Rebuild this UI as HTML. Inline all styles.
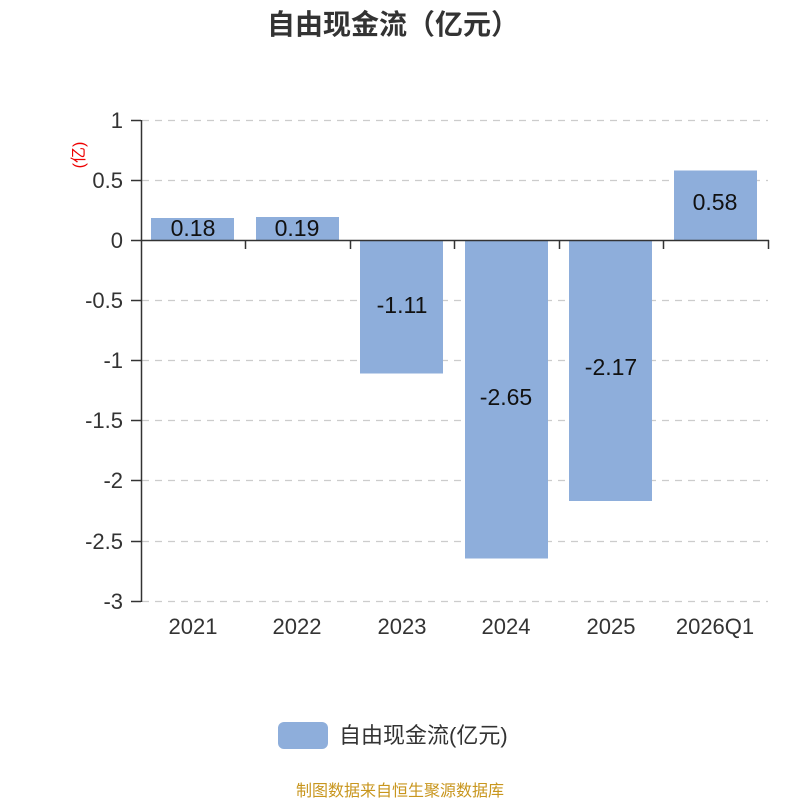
<!DOCTYPE html>
<html><head><meta charset="utf-8"><style>
html,body{margin:0;padding:0;background:#fff;}
svg{display:block;}
text{font-family:"Liberation Sans","Noto Sans CJK SC",sans-serif;}
</style></head><body>
<svg width="800" height="800" viewBox="0 0 800 800" xmlns="http://www.w3.org/2000/svg">
<text x="393" y="34" text-anchor="middle" font-size="28" font-weight="bold" fill="#333">自由现金流（亿元）</text>
<g stroke="#ccc" stroke-width="1.3" stroke-dasharray="7,6">
<line x1="142" y1="120.5" x2="768" y2="120.5"/>
<line x1="142" y1="180.5" x2="768" y2="180.5"/>
<line x1="142" y1="300.5" x2="768" y2="300.5"/>
<line x1="142" y1="360.5" x2="768" y2="360.5"/>
<line x1="142" y1="420.5" x2="768" y2="420.5"/>
<line x1="142" y1="480.5" x2="768" y2="480.5"/>
<line x1="142" y1="541.5" x2="768" y2="541.5"/>
<line x1="142" y1="601.5" x2="768" y2="601.5"/>
</g>
<g fill="#8eaedb">
<rect x="151" y="218" width="83" height="22"/>
<rect x="256" y="217" width="83" height="23"/>
<rect x="360" y="240" width="83" height="133.5"/>
<rect x="465" y="240" width="83" height="318.5"/>
<rect x="569" y="240" width="83" height="261"/>
<rect x="674" y="170.5" width="83" height="69.5"/>
</g>
<g stroke="#333" stroke-width="1.5">
<line x1="141.5" y1="120" x2="141.5" y2="602"/>
<line x1="141" y1="240.5" x2="769" y2="240.5"/>
<line x1="131" y1="120.5" x2="141" y2="120.5"/>
<line x1="131" y1="180.5" x2="141" y2="180.5"/>
<line x1="131" y1="240.5" x2="141" y2="240.5"/>
<line x1="131" y1="300.5" x2="141" y2="300.5"/>
<line x1="131" y1="360.5" x2="141" y2="360.5"/>
<line x1="131" y1="420.5" x2="141" y2="420.5"/>
<line x1="131" y1="480.5" x2="141" y2="480.5"/>
<line x1="131" y1="541.5" x2="141" y2="541.5"/>
<line x1="131" y1="601.5" x2="141" y2="601.5"/>
<line x1="245.5" y1="240" x2="245.5" y2="249"/>
<line x1="350.5" y1="240" x2="350.5" y2="249"/>
<line x1="454.5" y1="240" x2="454.5" y2="249"/>
<line x1="559.5" y1="240" x2="559.5" y2="249"/>
<line x1="663.5" y1="240" x2="663.5" y2="249"/>
<line x1="768.5" y1="240" x2="768.5" y2="249"/>
</g>
<g font-size="22" fill="#333" text-anchor="end">
<text x="123" y="128">1</text>
<text x="123" y="188">0.5</text>
<text x="123" y="248">0</text>
<text x="123" y="308">-0.5</text>
<text x="123" y="368">-1</text>
<text x="123" y="428">-1.5</text>
<text x="123" y="488">-2</text>
<text x="123" y="549">-2.5</text>
<text x="123" y="609">-3</text>
</g>
<text transform="translate(84,155) rotate(-90)" text-anchor="middle" font-size="16" fill="#e00">(亿)</text>
<g font-size="22" fill="#333" text-anchor="middle">
<text x="193" y="634">2021</text>
<text x="297" y="634">2022</text>
<text x="402" y="634">2023</text>
<text x="506" y="634">2024</text>
<text x="611" y="634">2025</text>
<text x="715" y="634">2026Q1</text>
</g>
<g font-size="23" fill="#111" text-anchor="middle">
<text x="193" y="236">0.18</text>
<text x="297" y="236">0.19</text>
<text x="402" y="313">-1.11</text>
<text x="506" y="405">-2.65</text>
<text x="611" y="375">-2.17</text>
<text x="715" y="210">0.58</text>
</g>
<rect x="278" y="722" width="50" height="27" rx="6" fill="#8eaedb"/>
<text x="339" y="743" font-size="22" fill="#333">自由现金流(亿元)</text>
<text x="400" y="796" text-anchor="middle" font-size="16" fill="#c8961e">制图数据来自恒生聚源数据库</text>
</svg>
</body></html>
